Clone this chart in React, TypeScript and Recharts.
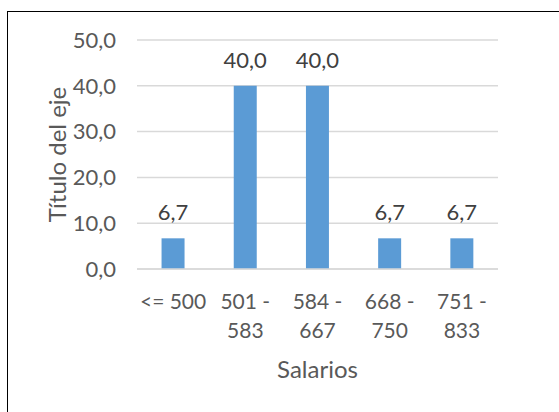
import React from "react";
import { BarChart, Bar, XAxis, YAxis, CartesianGrid, LabelList } from "recharts";

const categories = ["<= 500", "501 - 583", "584 - 667", "668 - 750", "751 - 833"];
const values = [6.7, 40.0, 40.0, 6.7, 6.7];
const yTicks = [0, 10, 20, 30, 40, 50];

const data = categories.map((c, i) => ({ name: c, value: values[i] }));
const fmt = (v: number) => Number(v).toFixed(1).replace(".", ",");
const FONT = "Lato, 'Noto Sans', sans-serif";

const XTick = (props: any) => {
  const { x, y, payload } = props;
  const s: string = payload.value;
  const idx = s.indexOf(" - ");
  const lines = idx >= 0 ? [s.slice(0, idx + 2), s.slice(idx + 3)] : [s];
  return (
    <g>
      {lines.map((l, i) => (
        <text key={i} x={x} y={y + 40 + i * 29} textAnchor="middle" fill="#595959" fontSize={21} fontFamily={FONT}>
          {l}
        </text>
      ))}
    </g>
  );
};

export default function App() {
  return (
    <div style={{ position: "absolute", left: 0, top: 0, width: 559, height: 412, overflow: "hidden", background: "#fff" }}>
      <div style={{ position: "absolute", left: 7, top: 11, width: 700, height: 600, border: "1px solid #000", boxSizing: "border-box" }} />
      <div style={{ position: "absolute", left: 0, top: 0 }}>
        <BarChart width={559} height={412} data={data} margin={{ top: 40, right: 61, bottom: 0, left: 0 }} barCategoryGap="34%">
          <CartesianGrid vertical={false} stroke="#D9D9D9" strokeWidth={1.5} />
          <XAxis
            dataKey="name"
            height={143}
            axisLine={{ stroke: "#D9D9D9", strokeWidth: 1.5 }}
            tickLine={false}
            tickSize={0}
            tickMargin={0}
            interval={0}
            tick={<XTick />}
            label={{ value: "Salarios", position: "insideBottom", offset: 34, fill: "#595959", fontSize: 24, fontFamily: FONT }}
          />
          <YAxis
            width={137}
            domain={[0, 50]}
            ticks={yTicks}
            axisLine={false}
            tickLine={false}
            tickSize={0}
            tickMargin={21}
            tickFormatter={fmt}
            tick={{ fill: "#595959", fontSize: 22, fontFamily: FONT }}
            label={{ value: "Título del eje", angle: -90, position: "center", dx: -11, fill: "#595959", fontSize: 24, fontFamily: FONT }}
          />
          <Bar dataKey="value" fill="#5B9BD5" isAnimationActive={false}>
            <LabelList dataKey="value" position="top" offset={18} formatter={fmt} fill="#404040" fontSize={22} fontFamily={FONT} />
          </Bar>
        </BarChart>
      </div>
    </div>
  );
}
